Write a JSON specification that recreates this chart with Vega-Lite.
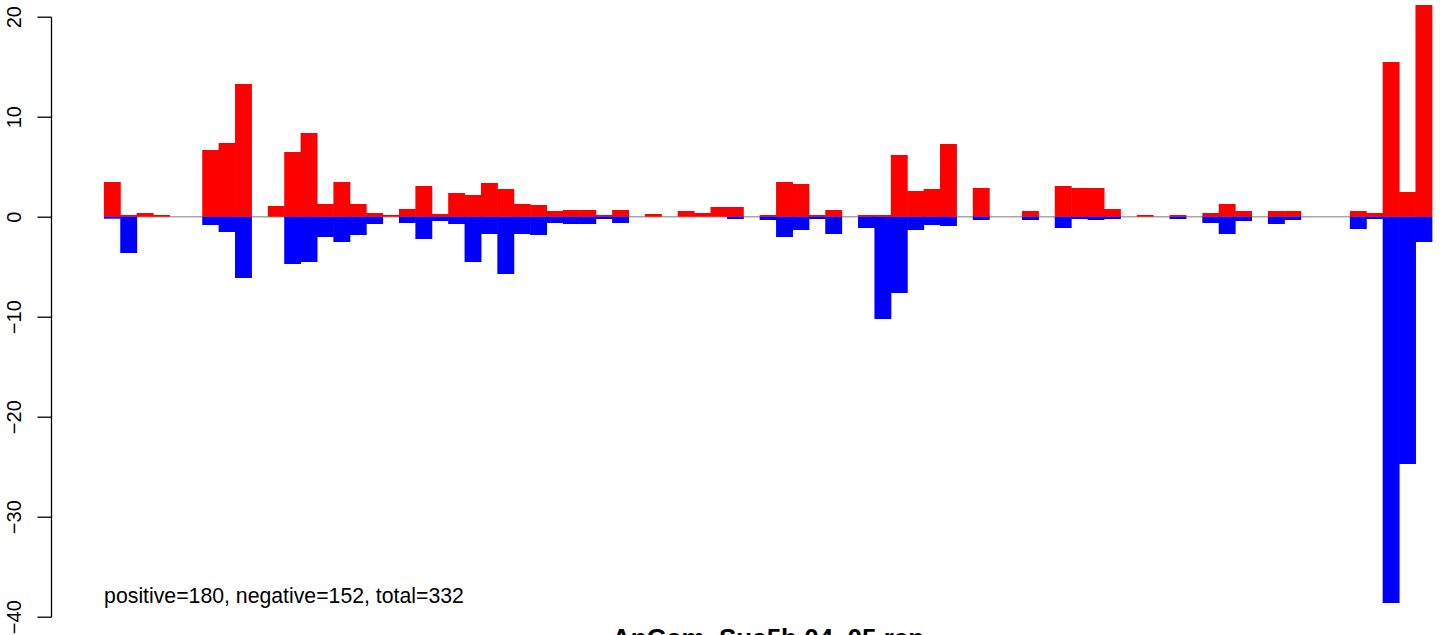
{
  "$schema": "https://vega.github.io/schema/vega-lite/v6.json",
  "width": 1393,
  "height": 600,
  "autosize": {"type": "none"},
  "padding": {"left": 51, "top": 16.7, "right": 0, "bottom": 18.3},
  "background": "white",
  "config": {"view": {"stroke": null}, "font": "Liberation Sans"},
  "data": {
    "values": [
      {"i": 1, "pos": 3.47, "neg": -0.2},
      {"i": 2, "pos": 0.17, "neg": -3.63},
      {"i": 3, "pos": 0.37, "neg": 0},
      {"i": 4, "pos": 0.17, "neg": 0},
      {"i": 5, "pos": 0, "neg": 0},
      {"i": 6, "pos": 0, "neg": 0},
      {"i": 7, "pos": 6.67, "neg": -0.83},
      {"i": 8, "pos": 7.37, "neg": -1.53},
      {"i": 9, "pos": 13.27, "neg": -6.13},
      {"i": 10, "pos": 0, "neg": 0},
      {"i": 11, "pos": 1.07, "neg": 0},
      {"i": 12, "pos": 6.47, "neg": -4.73},
      {"i": 13, "pos": 8.37, "neg": -4.53},
      {"i": 14, "pos": 1.27, "neg": -2.03},
      {"i": 15, "pos": 3.47, "neg": -2.53},
      {"i": 16, "pos": 1.27, "neg": -1.83},
      {"i": 17, "pos": 0.37, "neg": -0.73},
      {"i": 18, "pos": 0.17, "neg": 0},
      {"i": 19, "pos": 0.77, "neg": -0.63},
      {"i": 20, "pos": 3.07, "neg": -2.23},
      {"i": 21, "pos": 0.27, "neg": -0.43},
      {"i": 22, "pos": 2.37, "neg": -0.73},
      {"i": 23, "pos": 2.17, "neg": -4.53},
      {"i": 24, "pos": 3.37, "neg": -1.73},
      {"i": 25, "pos": 2.77, "neg": -5.73},
      {"i": 26, "pos": 1.27, "neg": -1.73},
      {"i": 27, "pos": 1.17, "neg": -1.83},
      {"i": 28, "pos": 0.57, "neg": -0.63},
      {"i": 29, "pos": 0.67, "neg": -0.73},
      {"i": 30, "pos": 0.67, "neg": -0.73},
      {"i": 31, "pos": 0.17, "neg": -0.23},
      {"i": 32, "pos": 0.67, "neg": -0.63},
      {"i": 33, "pos": 0, "neg": 0},
      {"i": 34, "pos": 0.27, "neg": 0},
      {"i": 35, "pos": 0, "neg": 0},
      {"i": 36, "pos": 0.57, "neg": 0},
      {"i": 37, "pos": 0.37, "neg": 0},
      {"i": 38, "pos": 0.97, "neg": 0},
      {"i": 39, "pos": 0.97, "neg": -0.23},
      {"i": 40, "pos": 0, "neg": 0},
      {"i": 41, "pos": 0.17, "neg": -0.33},
      {"i": 42, "pos": 3.47, "neg": -2.03},
      {"i": 43, "pos": 3.27, "neg": -1.33},
      {"i": 44, "pos": 0.17, "neg": -0.23},
      {"i": 45, "pos": 0.67, "neg": -1.73},
      {"i": 46, "pos": 0, "neg": 0},
      {"i": 47, "pos": 0.17, "neg": -1.13},
      {"i": 48, "pos": 0.17, "neg": -10.23},
      {"i": 49, "pos": 6.17, "neg": -7.63},
      {"i": 50, "pos": 2.57, "neg": -1.33},
      {"i": 51, "pos": 2.77, "neg": -0.83},
      {"i": 52, "pos": 7.27, "neg": -0.93},
      {"i": 53, "pos": 0, "neg": 0},
      {"i": 54, "pos": 2.87, "neg": -0.33},
      {"i": 55, "pos": 0, "neg": 0},
      {"i": 56, "pos": 0, "neg": 0},
      {"i": 57, "pos": 0.57, "neg": -0.33},
      {"i": 58, "pos": 0, "neg": 0},
      {"i": 59, "pos": 3.07, "neg": -1.13},
      {"i": 60, "pos": 2.87, "neg": -0.23},
      {"i": 61, "pos": 2.87, "neg": -0.33},
      {"i": 62, "pos": 0.77, "neg": -0.23},
      {"i": 63, "pos": 0, "neg": 0},
      {"i": 64, "pos": 0.17, "neg": 0},
      {"i": 65, "pos": 0, "neg": 0},
      {"i": 66, "pos": 0.17, "neg": -0.23},
      {"i": 67, "pos": 0, "neg": 0},
      {"i": 68, "pos": 0.37, "neg": -0.63},
      {"i": 69, "pos": 1.27, "neg": -1.73},
      {"i": 70, "pos": 0.57, "neg": -0.43},
      {"i": 71, "pos": 0, "neg": 0},
      {"i": 72, "pos": 0.57, "neg": -0.73},
      {"i": 73, "pos": 0.57, "neg": -0.33},
      {"i": 74, "pos": 0, "neg": 0},
      {"i": 75, "pos": 0, "neg": 0},
      {"i": 76, "pos": 0, "neg": 0},
      {"i": 77, "pos": 0.57, "neg": -1.23},
      {"i": 78, "pos": 0.37, "neg": -0.23},
      {"i": 79, "pos": 15.47, "neg": -38.63},
      {"i": 80, "pos": 2.47, "neg": -24.73},
      {"i": 81, "pos": 21.17, "neg": -2.53}
    ]
  },
  "layer": [
    {
      "data": {"values": [{}]},
      "mark": {"type": "rule", "color": "#a6a6a6", "strokeWidth": 1.6},
      "encoding": {
        "x": {"datum": 0.5, "type": "quantitative", "scale": {"domain": [-2.74, 82.225], "nice": false, "zero": false, "padding": 0}, "axis": null},
        "x2": {"datum": 81.5},
        "y": {"datum": 0, "type": "quantitative"}
      }
    },
    {
      "mark": {"type": "bar", "color": "#ff0000", "width": 16.9},
      "encoding": {
        "x": {"field": "i", "type": "quantitative", "scale": {"domain": [-2.74, 82.225], "nice": false, "zero": false, "padding": 0}, "axis": null},
        "y": {
          "field": "pos",
          "type": "quantitative",
          "scale": {"domain": [-40, 20], "nice": false, "zero": false, "padding": 0},
          "axis": {
            "title": null,
            "grid": false,
            "values": [-40, -30, -20, -10, 0, 10, 20],
            "labelAngle": -90,
            "labelAlign": "center",
            "labelBaseline": "alphabetic",
            "labelPadding": 17,
            "labelOverlap": false,
            "labelFontSize": 20,
            "labelFont": "Liberation Sans",
            "labelColor": "black",
            "tickSize": 14,
            "tickColor": "black",
            "tickWidth": 1.3,
            "domainColor": "black",
            "domainWidth": 1.3
          }
        }
      }
    },
    {
      "mark": {"type": "bar", "color": "#0000ff", "width": 16.9},
      "encoding": {
        "x": {"field": "i", "type": "quantitative"},
        "y": {"field": "neg", "type": "quantitative"}
      }
    },
    {
      "data": {"values": [{}]},
      "mark": {
        "type": "text",
        "text": "positive=180, negative=152, total=332",
        "align": "left",
        "baseline": "alphabetic",
        "fontSize": 21.25,
        "font": "Liberation Sans",
        "color": "black"
      },
      "encoding": {
        "x": {"datum": 0.5, "type": "quantitative"},
        "y": {"datum": -38.63, "type": "quantitative"}
      }
    },
    {
      "data": {"values": [{}]},
      "mark": {
        "type": "text",
        "text": "AnGam_Sua5b.04_05.rep",
        "align": "center",
        "baseline": "alphabetic",
        "fontSize": 26,
        "fontWeight": "bold",
        "font": "Liberation Sans",
        "color": "black"
      },
      "encoding": {
        "x": {"datum": 41, "type": "quantitative"},
        "y": {"datum": -43.0, "type": "quantitative"}
      }
    }
  ]
}
